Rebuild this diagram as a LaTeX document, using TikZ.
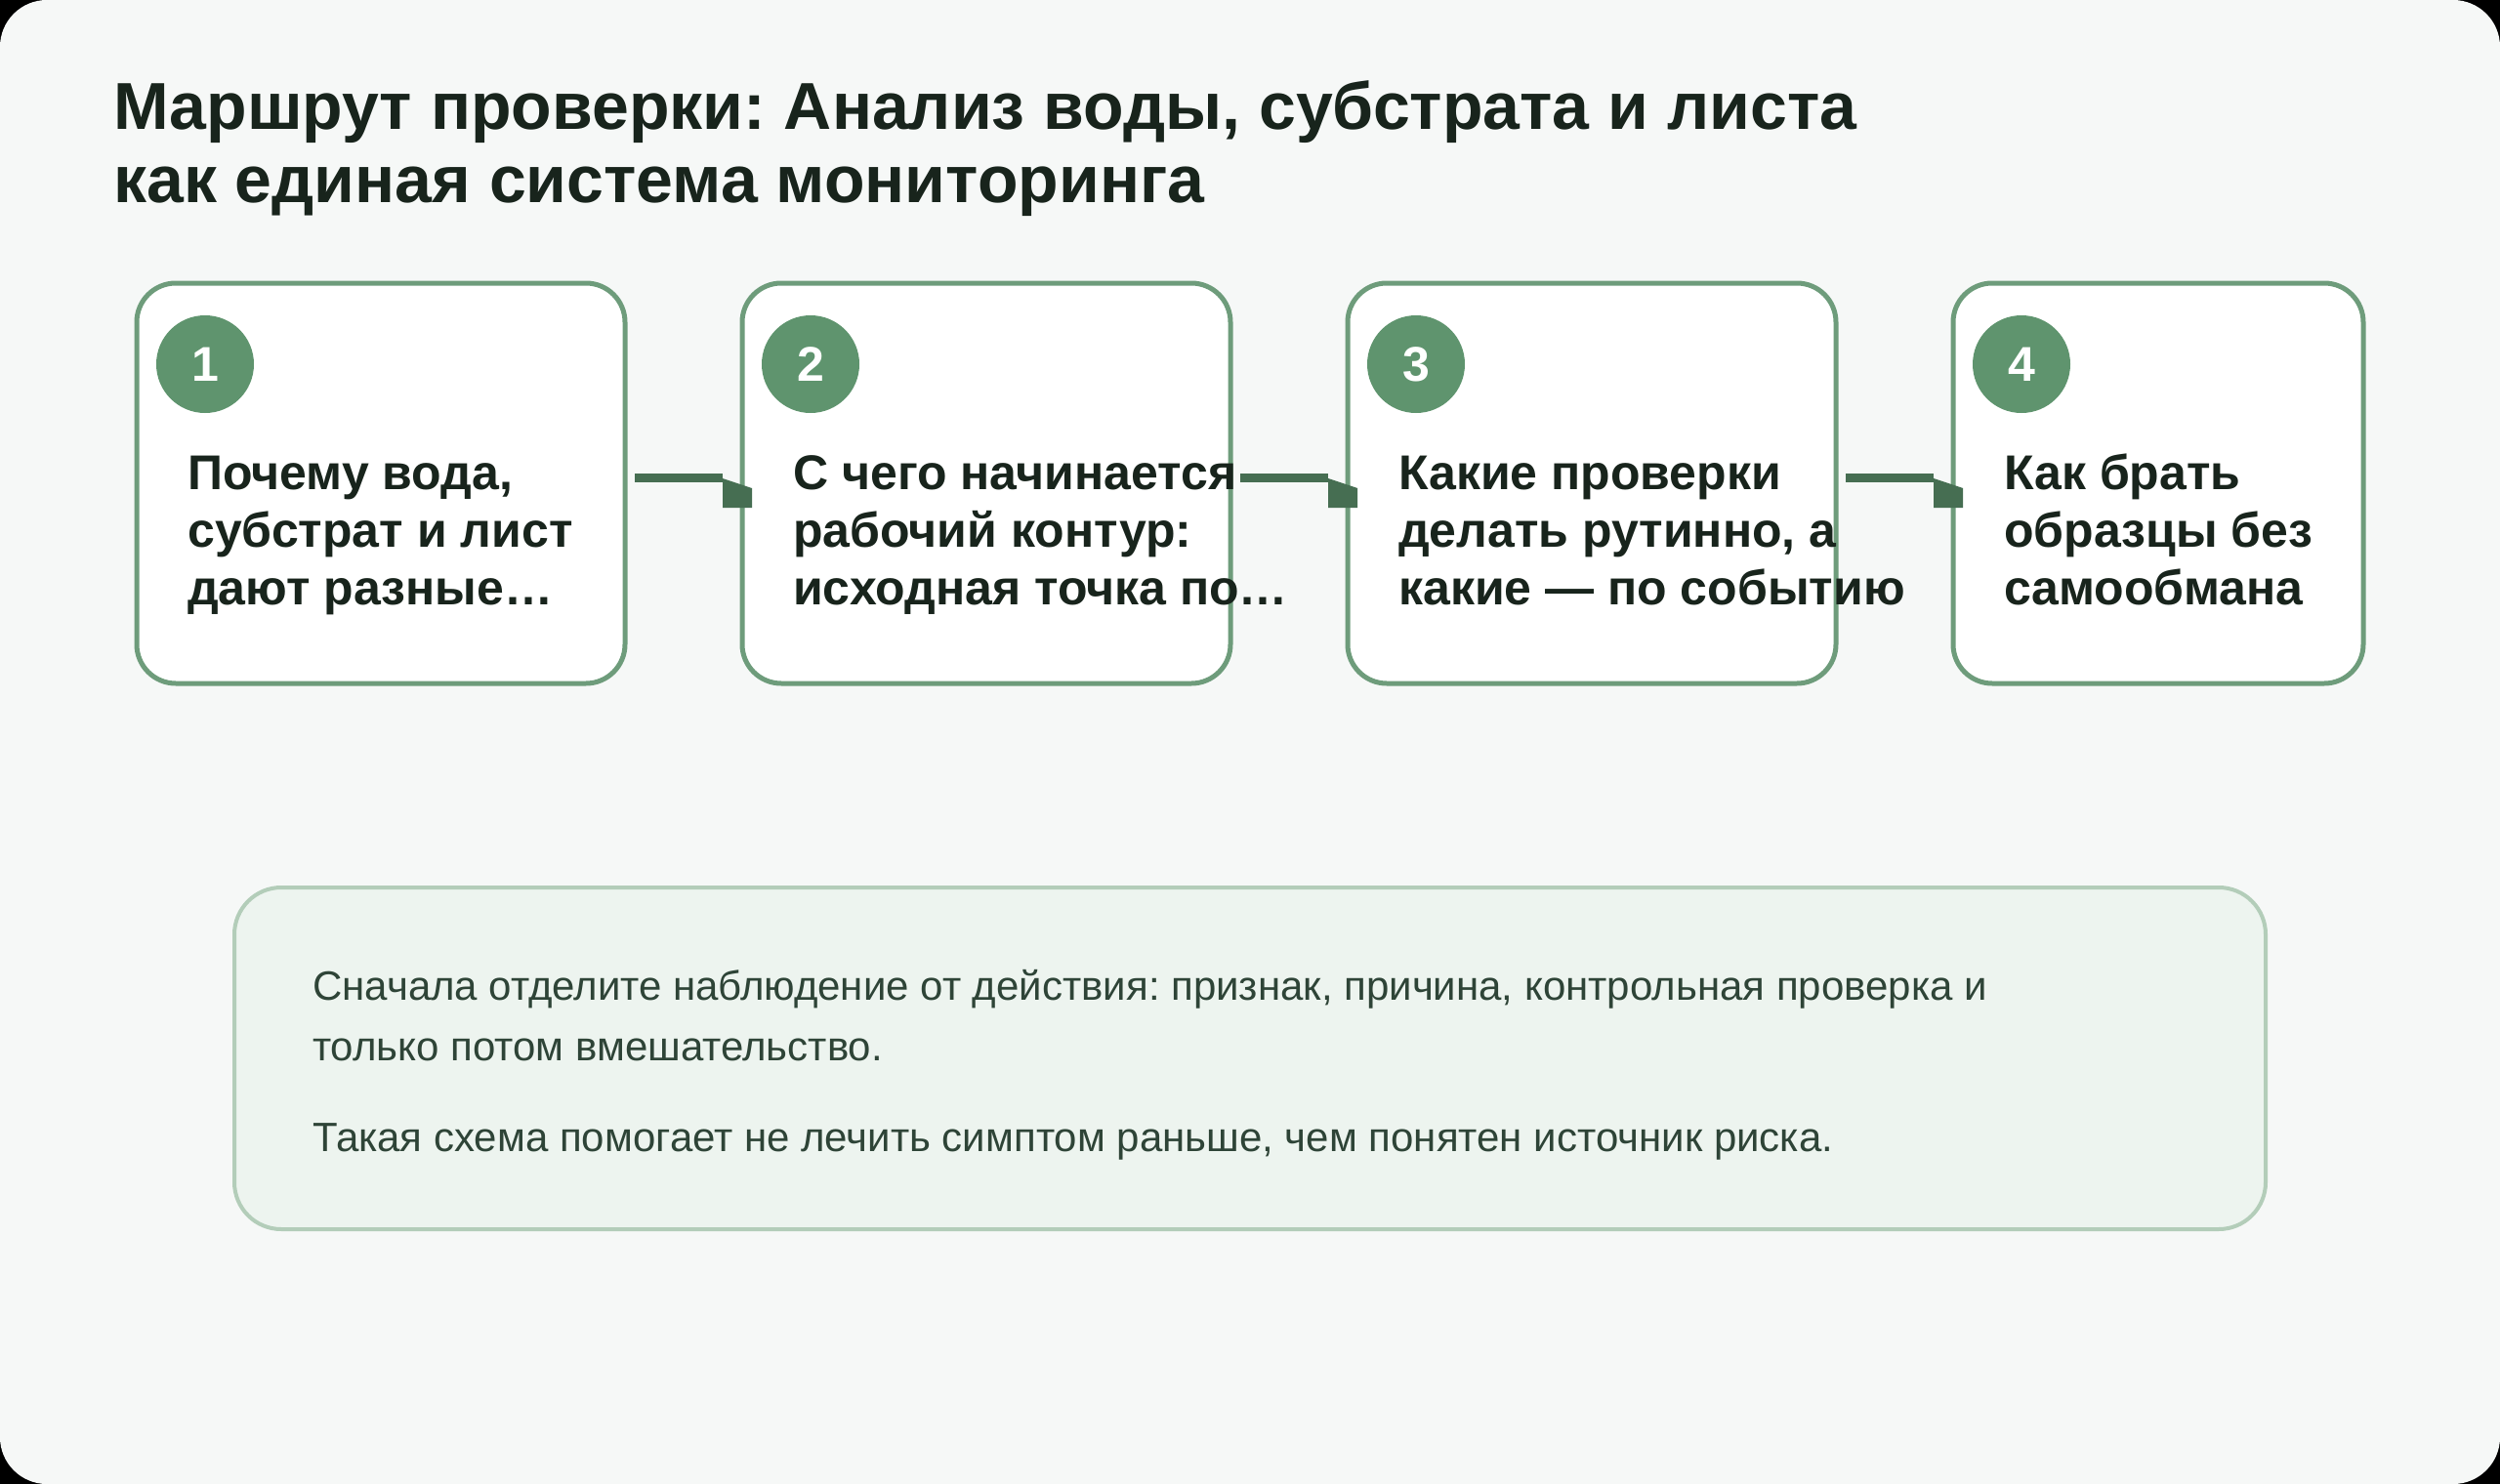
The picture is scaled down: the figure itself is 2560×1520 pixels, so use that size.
\documentclass[tikz,border=0pt]{standalone}
\usepackage{fontspec}
\setmainfont{Liberation Sans}
\usetikzlibrary{calc}
\frenchspacing
\definecolor{pagebg}{HTML}{F6F8F7}
\definecolor{cardline}{HTML}{6E9C7B}
\definecolor{badge}{HTML}{5F946E}
\definecolor{conn}{HTML}{466E52}
\definecolor{titlec}{HTML}{18241C}
\definecolor{notefill}{HTML}{EDF4EF}
\definecolor{noteline}{HTML}{B3CDB9}
\definecolor{notetext}{HTML}{2E4437}
\tikzset{
  card/.style={draw=cardline, fill=white, line width=5pt, rounded corners=40pt,
    minimum height=410pt, inner sep=0pt, outer sep=0pt},
  wcard/.style={card, minimum width=500pt},
  ncard/.style={card, minimum width=420pt},
  badgenode/.style={circle, fill=badge, minimum size=100pt, inner sep=0pt,
    text=white, font=\fontsize{50}{60}\selectfont\bfseries},
  cardtext/.style={anchor=base west, inner sep=0pt, text=titlec,
    font=\fontsize{50}{60}\selectfont\bfseries},
  titletext/.style={anchor=base west, inner sep=0pt, text=titlec,
    font=\fontsize{68}{75}\selectfont\bfseries},
  notetextstyle/.style={anchor=base west, inner sep=0pt, text=notetext,
    font=\fontsize{42}{62}\selectfont},
  connline/.style={draw=conn, line width=9pt},
  conntip/.style={fill=conn},
}
\begin{document}
\begin{tikzpicture}[x=1pt,y=-1pt]
\useasboundingbox (0,0) rectangle (2560,1520);
\fill[black] (0,0) rectangle (2560,1520);
\fill[pagebg, rounded corners=48pt] (0,0) rectangle (2560,1520);

% title
\node[titletext] (t1) at (116,132) {Маршрут проверки: Анализ воды, субстрата и листа};
\node[titletext] (t2) at (116,207) {как единая система мониторинга};

% cards
\node[wcard] (c1) at (390,495) {};
\node[wcard] (c2) at (1010,495) {};
\node[wcard] (c3) at (1630,495) {};
\node[ncard] (c4) at (2210,495) {};

% badges
\node[badgenode] (b1) at ($(c1.north west)+(70,83)$) {1};
\node[badgenode] (b2) at ($(c2.north west)+(70,83)$) {2};
\node[badgenode] (b3) at ($(c3.north west)+(70,83)$) {3};
\node[badgenode] (b4) at ($(c4.north west)+(70,83)$) {4};

% card texts
\node[cardtext] (c1l1) at ($(c1.north west)+(52,211)$) {Почему вода,};
\node[cardtext] (c1l2) at ($(c1.north west)+(52,270)$) {субстрат и лист};
\node[cardtext] (c1l3) at ($(c1.north west)+(52,329)$) {дают разные…};

\node[cardtext] (c2l1) at ($(c2.north west)+(52,211)$) {С чего начинается};
\node[cardtext] (c2l2) at ($(c2.north west)+(52,270)$) {рабочий контур:};
\node[cardtext] (c2l3) at ($(c2.north west)+(52,329)$) {исходная точка по…};

\node[cardtext] (c3l1) at ($(c3.north west)+(52,211)$) {Какие проверки};
\node[cardtext] (c3l2) at ($(c3.north west)+(52,270)$) {делать рутинно, а};
\node[cardtext] (c3l3) at ($(c3.north west)+(52,329)$) {какие — по событию};

\node[cardtext] (c4l1) at ($(c4.north west)+(52,211)$) {Как брать};
\node[cardtext] (c4l2) at ($(c4.north west)+(52,270)$) {образцы без};
\node[cardtext] (c4l3) at ($(c4.north west)+(52,329)$) {самообмана};

% connectors
\foreach \a/\b in {c1/c2, c2/c3, c3/c4}{
  \draw[connline] ($(\a.east)+(10,-6)$) -- ($(\b.west)+(-20,-6)$);
  \fill[conntip] ($(\b.west)+(-20,-5)$) -- ($(\b.west)+(10,5)$) -- ($(\b.west)+(10,25)$) -- ($(\b.west)+(-20,25)$) -- cycle;
}

% note box
\node[draw=noteline, fill=notefill, line width=4pt, rounded corners=48pt,
  minimum width=2080pt, minimum height=350pt, inner sep=0pt] (note) at (1280,1084) {};
\node[notetextstyle] (n1) at (320,1024) {Сначала отделите наблюдение от действия: признак, причина, контрольная проверка и};
\node[notetextstyle] (n2) at (320,1086) {только потом вмешательство.};
\node[notetextstyle] (n3) at (320,1179) {Такая схема помогает не лечить симптом раньше, чем понятен источник риска.};
\end{tikzpicture}
\end{document}
